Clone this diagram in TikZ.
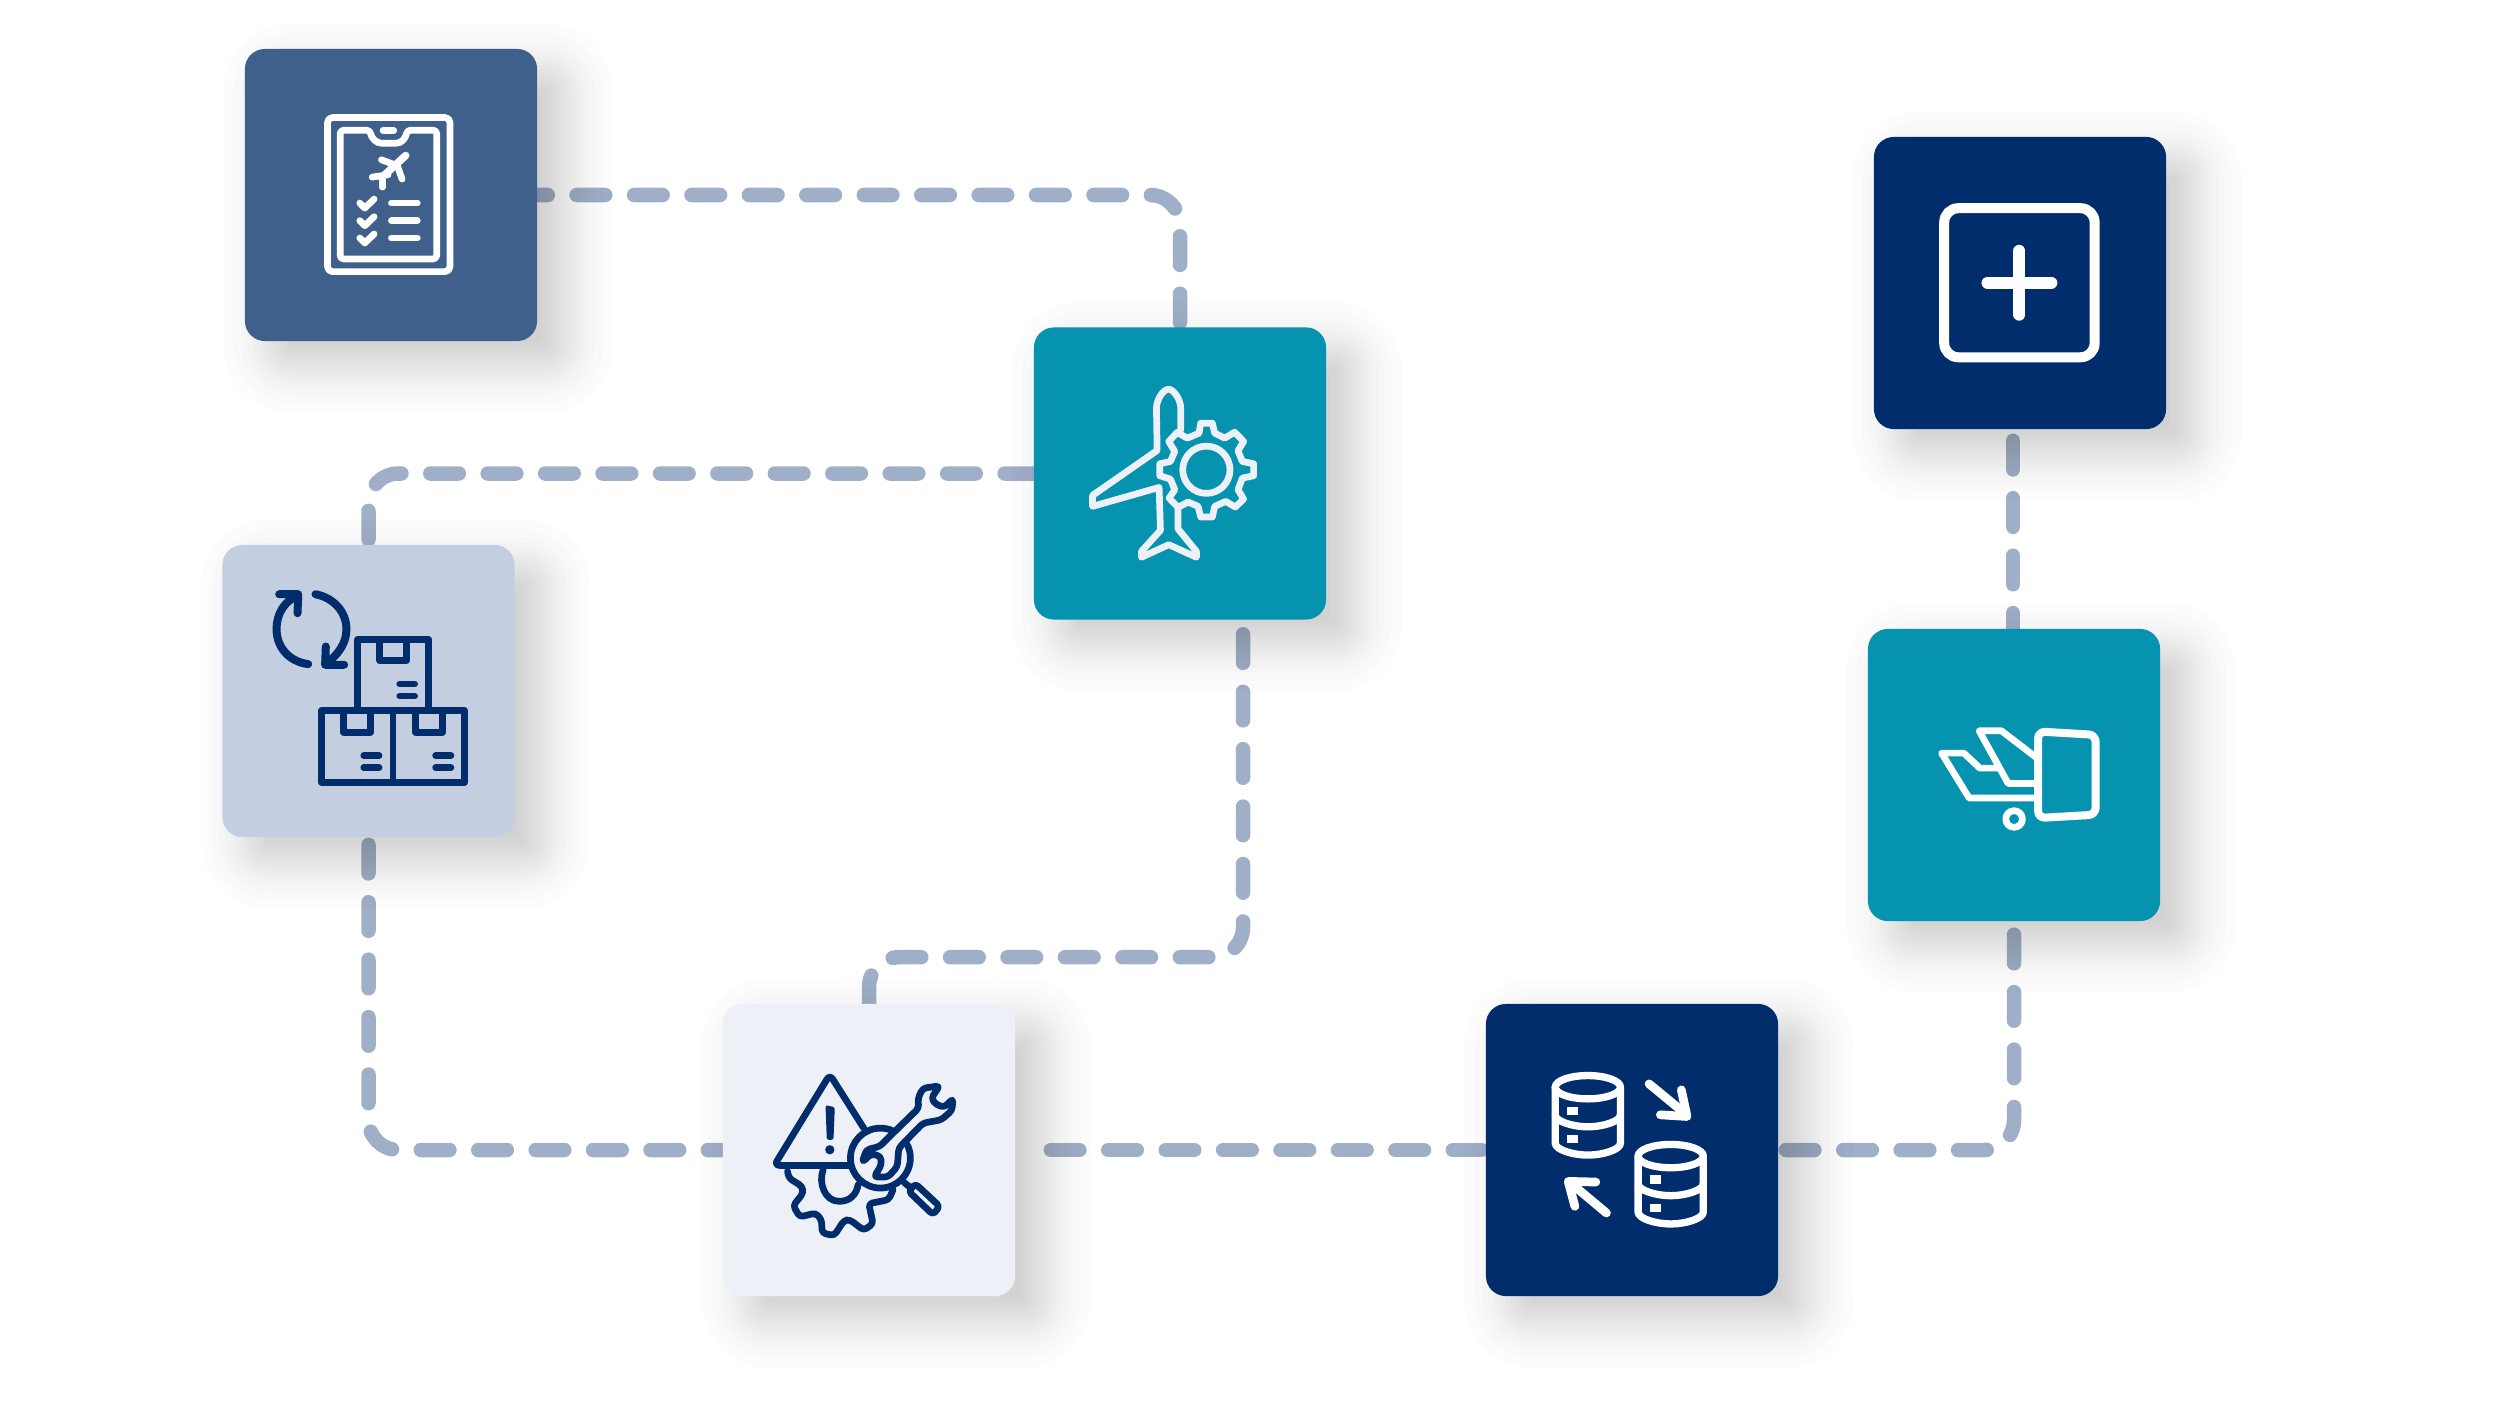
\documentclass[tikz,border=0pt]{standalone}
\usepackage{xcolor}
\usetikzlibrary{calc,backgrounds}
\definecolor{flSteel}{HTML}{3F608A}
\definecolor{flTeal}{HTML}{0693B0}
\definecolor{flMist}{HTML}{C3CFE0}
\definecolor{flPale}{HTML}{EDF0F6}
\definecolor{flNavy}{HTML}{012D6C}
\definecolor{flDash}{HTML}{9FAFC8}

\begin{document}
\begin{tikzpicture}[
  x=0.01cm, y=-0.01cm,
  tile/.style={rectangle, rounded corners=0.2cm, minimum size=2.92cm, inner sep=0pt},
  ruta/.style={draw=flDash, line width=0.145cm, line cap=round, rounded corners=0.3cm,
               dash pattern=on 0.286cm off 0.288cm},
  iconat/.style 2 args={xshift=#1*0.01cm, yshift=-#2*0.01cm, x=0.003333cm, y=-0.003333cm},
  glyph/.style={line width=0.067cm, line cap=round, line join=round},
]
\useasboundingbox (0,0) rectangle (2500,1406);

% ---- Tiles ----
\node[tile, fill=flSteel] (plan)   at (391,195)    {};
\node[tile, fill=flTeal]  (engine) at (1180,473.5) {};
\node[tile, fill=flMist]  (stock)  at (368.5,691)  {};
\node[tile, fill=flPale]  (warn)   at (869,1150)   {};
\node[tile, fill=flNavy]  (db)     at (1632,1150)  {};
\node[tile, fill=flTeal]  (cart)   at (2014,775)   {};
\node[tile, fill=flNavy]  (plus)   at (2020,283)   {};

\coordinate (engineout) at ($(engine.south)+(63,0)$);
\coordinate (warnout)   at ($(warn.east)+(35,0)$);
\coordinate (plusout)   at ($(plus.south)+(-7,0)$);
\coordinate (cartin)    at ($(cart.north)+(-1,0)$);

\begin{scope}[on background layer]
% ---- Connectors ----
\draw[ruta, dash phase=0.186cm] (plan.east) -| (engine.north);
\draw[ruta] (engine.west) -| (stock.north);
\draw[ruta, dash phase=0.504cm] (stock.south) |- (warn.west);
\draw[ruta, dash phase=0.434cm] (engineout) |- ($(warn.north)+(0,-46)$) -- (warn.north);
\draw[ruta] (warnout) -- (db.west);
\draw[ruta, dash phase=0.504cm] (db.east) -| (cart.south);
\draw[ruta, dash phase=0.464cm] (plusout) -- (cartin);
% ---- Shadows ----
\foreach \n in {plan,engine,stock,warn,db,cart,plus}
  \foreach \e in {-48,-38,-30,-24,-18,-14,-10,-6,-2,2,6,10,14,18,24,30,38,48} {
    \pgfmathsetmacro\r{max(20+\e,2)*0.01}
    \fill[black, fill opacity=0.0105, rounded corners=\r cm]
      ($(\n.south west)+(27-\e,23+\e)$) rectangle ($(\n.north east)+(27+\e,23-\e)$);
  }
\end{scope}

% ---- Clipboard ----
\begin{scope}[iconat={230}{40}, glyph, draw=white]
\draw[rounded corners=1.4pt] (293,233) rectangle (661,696);
\draw[rounded corners=1pt] (331,271) -- (421,271) .. controls (425,295) and (440,310) .. (465,310)
  -- (490,310) .. controls (515,310) and (528,295) .. (532,271) -- (621,271) -- (621,658) -- (331,658) -- cycle;
\draw (460,272) -- (492,272);
\draw[line width=0.075cm] (465,405) -- (528,347);
\draw (455,360) -- (503,378) -- (517,418);
\draw (427,412) -- (475,405);
\draw (458,442) -- (458,412);
\foreach \y in {0,53,105} {
  \draw (390,490+\y) -- (405,505+\y) -- (433,478+\y);
  \draw (485,490+\y) -- (563,490+\y);
}
\end{scope}

% ---- Plane and gear ----
\begin{scope}[iconat={1020}{320}, glyph, draw=flPale]
\draw (483,330) -- (483,265) .. controls (483,240) and (462,208) .. (447,208)
  .. controls (430,208) and (410,240) .. (410,265) -- (412,392) -- (218,527) -- (218,560)
  -- (418,503) -- (422,632) -- (365,695) -- (365,713) -- (447,675) -- (530,713) -- (530,695)
  -- (475,628) -- (475,565);
\draw (538,340) -- (543,310) -- (578,310) -- (585,340) -- (615,355) -- (645,337) -- (672,365)
  -- (655,393) -- (668,425) -- (702,432) -- (702,468) -- (668,475) -- (655,510) -- (672,538)
  -- (647,562) -- (618,545) -- (585,560) -- (578,592) -- (543,592) -- (535,560) -- (505,547)
  -- (475,563) -- (448,535) -- (465,510) -- (452,478) -- (420,468) -- (420,432) -- (452,425)
  -- (465,395) -- (447,365) -- (472,338) -- (503,355) -- cycle;
\draw (560,450) circle[radius=71];
\end{scope}

% ---- Boxes ----
\begin{scope}[iconat={210}{530}, glyph, draw=flNavy]
\draw (443,543) -- (443,330) -- (657,330) -- (657,543);
\draw (510,330) -- (510,393) -- (590,393) -- (590,330);
\draw (335,543) rectangle (765,758);
\draw (550,543) -- (550,758);
\foreach \dx in {0,216} {
  \draw (402+\dx,543) -- (402+\dx,608) -- (482+\dx,608) -- (482+\dx,543);
  \draw (462+\dx,678) -- (508+\dx,678);
  \draw (462+\dx,714) -- (508+\dx,714);
}
\draw (570,463) -- (615,463);
\draw (570,499) -- (615,499);
\begin{scope}[line width=0.08cm]
\draw (295,403) .. controls (235,395) and (200,350) .. (200,298) .. controls (200,250) and (225,215) .. (258,200);
\draw (208,193) -- (265,193) -- (263,250);
\draw (317,193) .. controls (370,203) and (410,245) .. (410,298) .. controls (410,340) and (385,375) .. (350,400);
\draw (348,350) -- (346,405) -- (403,405);
\end{scope}
\end{scope}

% ---- Warning and wrench ----
\begin{scope}[iconat={715}{1000}, glyph, draw=flNavy]
\draw[rounded corners=1.5pt] (405,497) -- (178,497) -- (345,224) -- (447,385);
\fill[flNavy, rounded corners=0.6pt] (332,316) -- (360,322) -- (356,420) -- (336,420) -- cycle;
\fill[flNavy] (345,450) circle[radius=14];
\draw[rounded corners=1pt] (218,515) -- (222,535) -- (262,560) -- (265,580) -- (235,618) -- (255,652)
  -- (302,640) -- (320,660) -- (322,700) -- (358,708) -- (388,662) -- (405,660) -- (447,692)
  -- (475,672) -- (462,612) -- (522,600) -- (535,570);
\draw (325,510) .. controls (310,550) and (330,605) .. (373,605) .. controls (405,605) and (425,585) .. (430,555);
\draw[fill=flPale] (497,475) circle[radius=90];
\draw[fill=flPale, rounded corners=1pt] (675,258) -- (625,265) -- (610,295) -- (612,325) -- (535,400)
  -- (495,440) -- (455,450) -- (442,488) -- (470,462) -- (498,470) -- (500,495) -- (478,532) -- (520,532)
  -- (548,500) -- (552,445) -- (625,370) -- (680,360) -- (712,332) -- (715,296) -- (690,322) -- (665,315)
  -- (650,295) -- cycle;
\draw (568,548) -- (585,562);
\draw[rounded corners=1pt] (602,552) -- (675,620) -- (655,645) -- (582,575) -- cycle;
\end{scope}

% ---- Databases ----
\begin{scope}[iconat={1480}{1000}, glyph, draw=white, line width=0.073cm]
\foreach \dx/\dy in {0/0,249/207} {
  \draw (324+\dx,262+\dy) ellipse[x radius=98, y radius=35];
  \draw (226+\dx,262+\dy) -- (226+\dx,430+\dy) .. controls (226+\dx,450+\dy) and (280+\dx,466+\dy) .. (324+\dx,466+\dy)
    .. controls (368+\dx,466+\dy) and (422+\dx,450+\dy) .. (422+\dx,430+\dy) -- (422+\dx,262+\dy);
  \draw (226+\dx,345+\dy) .. controls (226+\dx,365+\dy) and (280+\dx,381+\dy) .. (324+\dx,381+\dy)
    .. controls (368+\dx,381+\dy) and (422+\dx,365+\dy) .. (422+\dx,345+\dy);
  \fill[white] (262+\dx,320+\dy) rectangle (295+\dx,345+\dy);
  \fill[white] (262+\dx,405+\dy) rectangle (295+\dx,430+\dy);
}
\begin{scope}[line width=0.087cm]
\draw (508,252) -- (615,340);
\draw (605,270) -- (622,350) -- (542,345);
\draw (380,640) -- (270,548);
\draw (285,620) -- (265,545) -- (348,547);
\end{scope}
\end{scope}

% ---- Cart ----
\begin{scope}[iconat={1860}{620}, glyph, draw=white]
\draw[line width=0.08cm, rounded corners=2pt] (535,335) -- (708,345) -- (708,585) -- (535,595) -- cycle;
\draw (528,412) -- (425,333) -- (358,333) -- (445,491) -- (525,491);
\draw (525,535) -- (328,535) -- (245,400) -- (312,400) -- (360,445) -- (415,445);
\draw (463,598) circle[radius=25];
\end{scope}

% ---- Plus ----
\begin{scope}[iconat={1860}{120}, glyph, draw=white]
\draw[line width=0.1cm, rounded corners=4pt] (253,265) rectangle (705,713);
\draw[line width=0.12cm] (383,489) -- (575,489);
\draw[line width=0.12cm] (479,393) -- (479,585);
\end{scope}

\end{tikzpicture}
\end{document}
